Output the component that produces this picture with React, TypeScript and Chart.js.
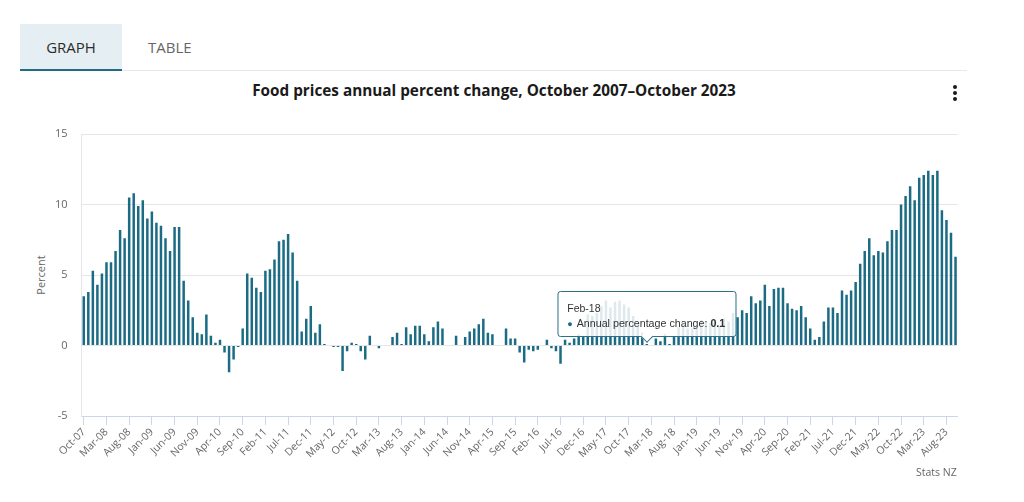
import React, { useEffect, useRef } from 'react';
import { Chart, registerables } from 'chart.js';

Chart.register(...registerables);

// Month names used to build the category labels (Oct 2007 – Oct 2023)
const MONTHS = ['Jan', 'Feb', 'Mar', 'Apr', 'May', 'Jun', 'Jul', 'Aug', 'Sep', 'Oct', 'Nov', 'Dec'];
const FIRST_YEAR = 2007;
const FIRST_MONTH = 9; // October

// Annual percent change in food prices, by calendar year
const v2007 = [3.5, 3.8, 5.3]; // Oct–Dec
const v2008 = [4.3, 5.1, 5.9, 5.9, 6.7, 8.2, 7.6, 10.5, 10.8, 9.9, 10.3, 9.0];
const v2009 = [9.5, 8.7, 8.5, 7.6, 6.7, 8.4, 8.4, 4.6, 3.2, 2.0, 0.9, 0.8];
const v2010 = [2.2, 0.7, 0.2, 0.4, -0.5, -1.9, -1.0, -0.1, 1.2, 5.1, 4.8, 4.1];
const v2011 = [3.8, 5.3, 5.4, 6.1, 7.4, 7.5, 7.9, 6.6, 4.6, 1.0, 1.9, 2.8];
const v2012 = [0.9, 1.5, 0.1, 0.0, -0.1, -0.1, -1.8, -0.4, 0.2, 0.1, -0.4, -1.0];
const v2013 = [0.7, 0.0, -0.2, 0.0, 0.0, 0.6, 0.9, 0.1, 1.3, 0.8, 1.4, 1.4];
const v2014 = [0.8, 0.3, 1.3, 1.7, 1.2, 0.0, 0.0, 0.7, 0.0, 0.6, 1.0, 1.2];
const v2015 = [1.5, 1.9, 0.9, 0.8, 0.0, 0.0, 1.2, 0.5, 0.5, -0.5, -1.2, -0.3];
const v2016 = [-0.4, -0.3, 0.0, 0.4, -0.2, -0.4, -1.3, 0.4, 0.2, 0.5, 0.8, 0.7];
const v2017 = [2.2, 2.1, 2.3, 2.8, 3.2, 2.7, 3.1, 3.2, 2.9, 2.7, 2.1, 1.6];
const v2018 = [0.9, 0.1, 0.0, 0.5, 0.3, 0.8, 0.1, 0.6, 1.3, 1.5, 1.2, 1.2];
const v2019 = [1.4, 1.8, 1.7, 1.6, 1.8, 1.4, 1.9, 1.7, 2.3, 2.0, 2.5, 2.3];
const v2020 = [3.5, 3.0, 3.2, 4.3, 2.8, 4.0, 4.1, 4.1, 3.0, 2.6, 2.5, 2.8];
const v2021 = [2.0, 1.2, 0.4, 0.6, 1.7, 2.7, 2.7, 2.3, 3.9, 3.6, 3.9, 4.5];
const v2022 = [5.8, 6.7, 7.6, 6.4, 6.7, 6.6, 7.4, 8.2, 8.2, 10.0, 10.6, 11.3];
const v2023 = [10.3, 11.9, 12.1, 12.4, 12.1, 12.4, 9.6, 8.9, 8.0, 6.3]; // Jan–Oct

const VALUES = [
  ...v2007, ...v2008, ...v2009, ...v2010, ...v2011, ...v2012, ...v2013, ...v2014,
  ...v2015, ...v2016, ...v2017, ...v2018, ...v2019, ...v2020, ...v2021, ...v2022, ...v2023,
];

const LABELS = VALUES.map((_, i) => {
  const m = (FIRST_MONTH + i) % 12;
  const y = FIRST_YEAR + Math.floor((FIRST_MONTH + i) / 12);
  return `${MONTHS[m]}-${String(y).slice(2)}`;
});

const Y_TICKS = [-5, 0, 5, 10, 15];
const LABEL_EVERY = 5;
const TOOLTIP_LABEL = 'Feb-18';
const TOOLTIP_INDEX = LABELS.indexOf(TOOLTIP_LABEL);
const SERIES_NAME = 'Annual percentage change';

const BAR = '#1b6b84';
const FONT = "'Open Sans', 'Liberation Sans', Arial, sans-serif";
const TIP_FONT = "'Liberation Sans', Arial, sans-serif";

export default function App() {
  const ref = useRef<HTMLCanvasElement | null>(null);
  const tipRef = useRef<HTMLDivElement | null>(null);

  useEffect(() => {
    if (!ref.current) return;
    const chart = new Chart(ref.current, {
      type: 'bar',
      data: {
        labels: LABELS,
        datasets: [
          {
            label: SERIES_NAME,
            data: VALUES,
            backgroundColor: BAR,
            borderWidth: 0,
            barPercentage: 0.55,
            categoryPercentage: 1,
          },
        ],
      },
      options: {
        responsive: false,
        animation: false,
        events: [],
        layout: { padding: { left: 0, right: 66.2, top: 24, bottom: 0 } },
        plugins: {
          legend: { display: false },
          title: { display: false },
          tooltip: {
            enabled: false,
            position: 'nearest',
            external: ({ chart: c, tooltip }: any) => {
              const box = tipRef.current;
              if (!box) return;
              if (!tooltip || tooltip.opacity === 0) {
                box.style.display = 'none';
                return;
              }
              box.style.display = 'block';
              box.style.left = `${c.canvas.offsetLeft + tooltip.caretX}px`;
              box.style.top = `${c.canvas.offsetTop + tooltip.caretY}px`;
            },
          },
        },
        scales: {
          x: {
            offset: true,
            grid: {
              display: true,
              drawOnChartArea: false,
              drawTicks: true,
              offset: false,
              tickLength: 9,
              color: (ctx: any) => (ctx.index % LABEL_EVERY === 0 ? '#ccd6eb' : 'rgba(0,0,0,0)'),
            },
            border: { display: true, color: '#ccd6eb' },
            ticks: {
              autoSkip: false,
              maxRotation: 45,
              minRotation: 45,
              padding: 1,
              color: '#666666',
              font: { family: FONT, size: 10.5 },
              callback: (_v: any, i: number) => (i % LABEL_EVERY === 0 ? LABELS[i] : ''),
            },
            afterFit: (s: any) => {
              s.height = 86;
            },
          },
          y: {
            min: Y_TICKS[0],
            max: Y_TICKS[Y_TICKS.length - 1],
            afterBuildTicks: (s: any) => {
              s.ticks = Y_TICKS.map((v) => ({ value: v }));
            },
            grid: {
              drawTicks: false,
              color: (ctx: any) => (ctx.tick && ctx.tick.value === Y_TICKS[0] ? 'rgba(0,0,0,0)' : '#e6e6e6'),
            },
            border: { display: true, color: '#e3e6ec' },
            ticks: {
              padding: 14,
              color: '#666666',
              font: { family: FONT, size: 11 },
            },
            afterFit: (s: any) => {
              s.width = 81.5;
            },
          },
        },
      },
    });

    const el: any = chart.getDatasetMeta(0).data[TOOLTIP_INDEX];
    if (el && chart.tooltip) {
      chart.tooltip.setActiveElements([{ datasetIndex: 0, index: TOOLTIP_INDEX }], { x: el.x, y: el.y });
    }

    return () => chart.destroy();
  }, []);

  const abs: React.CSSProperties = { position: 'absolute' };

  return (
    <div
      style={{
        position: 'absolute',
        left: 0,
        top: 0,
        width: 1024,
        height: 502,
        background: '#ffffff',
        overflow: 'hidden',
        fontFamily: FONT,
      }}
    >
      {/* tab row divider */}
      <div style={{ ...abs, left: 20, top: 70, width: 947, height: 1, background: '#e8e8e8' }} />
      {/* GRAPH tab */}
      <div
        style={{
          ...abs,
          left: 20,
          top: 24,
          width: 102,
          height: 45,
          background: '#e5eef2',
          borderBottom: '2px solid #1f6c84',
          color: '#2b2b2b',
          fontSize: 15,
          lineHeight: '47px',
          textAlign: 'center',
        }}
      >
        GRAPH
      </div>
      <div style={{ ...abs, left: 148, top: 24, height: 47, lineHeight: '47px', fontSize: 15, color: '#666666' }}>
        TABLE
      </div>

      {/* title */}
      <div
        style={{
          ...abs,
          left: 0,
          width: 988,
          top: 80,
          textAlign: 'center',
          fontWeight: 700,
          fontSize: 15.3,
          color: '#1a1a1a',
          lineHeight: '20px',
          whiteSpace: 'nowrap',
        }}
      >
        Food prices annual percent change, October 2007–October 2023
      </div>

      {/* menu dots */}
      {[87, 93, 99].map((y) => (
        <div
          key={y}
          style={{ ...abs, left: 953, top: y - 2, width: 4, height: 4, borderRadius: 2, background: '#1a1a1a' }}
        />
      ))}

      {/* y axis title */}
      <div
        style={{
          ...abs,
          left: 40,
          top: 275,
          transform: 'translate(-50%, -50%) rotate(-90deg)',
          fontSize: 11,
          color: '#666666',
          whiteSpace: 'nowrap',
        }}
      >
        Percent
      </div>

      <canvas ref={ref} width={1024} height={392} style={{ ...abs, left: 0, top: 110, width: 1024, height: 392 }} />

      {/* tooltip (positioned by Chart.js external tooltip handler) */}
      <div ref={tipRef} style={{ ...abs, display: 'none', left: 0, top: 0, width: 0, height: 0 }}>
        <div
          style={{
            position: 'absolute',
            left: 0,
            bottom: 7,
            transform: 'translateX(-50%)',
            background: 'rgba(255,255,255,0.85)',
            border: '1px solid #2b7088',
            borderRadius: 3,
            padding: '10px 10px 5px 9px',
            fontFamily: TIP_FONT,
            color: '#333333',
            whiteSpace: 'nowrap',
          }}
        >
          <div style={{ fontSize: 10.5, lineHeight: '12px', marginBottom: 3 }}>{LABELS[TOOLTIP_INDEX]}</div>
          <div style={{ fontSize: 10.7, lineHeight: '13px' }}>
            <span style={{ color: BAR, fontSize: 9, marginRight: 4 }}>●</span>
            {SERIES_NAME}: <b>{VALUES[TOOLTIP_INDEX]}</b>
          </div>
          <div
            style={{
              position: 'absolute',
              left: '50%',
              bottom: -5,
              width: 8,
              height: 8,
              marginLeft: -4,
              background: '#ffffff',
              borderRight: '1px solid #2b7088',
              borderBottom: '1px solid #2b7088',
              transform: 'rotate(45deg)',
            }}
          />
        </div>
      </div>

      {/* credit */}
      <div style={{ ...abs, left: 916, top: 465, fontSize: 10.5, color: '#666666', whiteSpace: 'nowrap' }}>
        Stats NZ
      </div>
    </div>
  );
}
